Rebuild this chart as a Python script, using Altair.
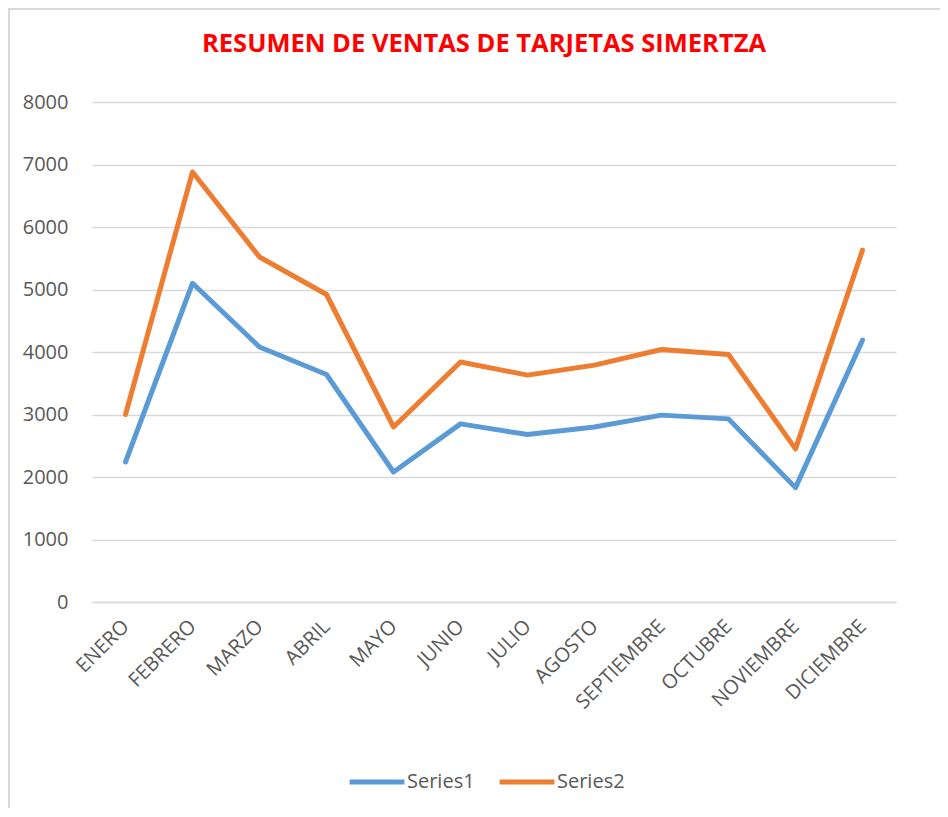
import altair as alt
import pandas as pd

months = ["ENERO", "FEBRERO", "MARZO", "ABRIL", "MAYO", "JUNIO", "JULIO",
          "AGOSTO", "SEPTIEMBRE", "OCTUBRE", "NOVIEMBRE", "DICIEMBRE"]
series1 = [2240, 5100, 4080, 3640, 2080, 2850, 2680, 2800, 2990, 2930, 1830, 4190]
series2 = [3000, 6880, 5520, 4920, 2800, 3840, 3630, 3790, 4040, 3960, 2450, 5630]

rows = []
for m, a, b in zip(months, series1, series2):
    rows.append({"mes": m, "serie": "Series1", "valor": a})
    rows.append({"mes": m, "serie": "Series2", "valor": b})
df = pd.DataFrame(rows)

FONT = "Open Sans"
GRAY = "#595959"

lines = alt.Chart(df).mark_line(strokeWidth=5, strokeCap="round", strokeJoin="round").encode(
    x=alt.X("mes:N", sort=months, scale=alt.Scale(type="point", padding=0.5),
            axis=alt.Axis(title=None, labelAngle=-45, labelFontSize=20, labelColor=GRAY,
                          labelFont=FONT, ticks=False, domain=True, domainColor="#D9D9D9",
                          domainWidth=1.3, labelPadding=21, labelBaseline="middle",
                          grid=False)),
    y=alt.Y("valor:Q", scale=alt.Scale(domain=[0, 8000], nice=False),
            axis=alt.Axis(title=None, values=list(range(0, 8001, 1000)), format="d",
                          labelFontSize=20, labelColor=GRAY, labelFont=FONT, ticks=False,
                          domain=False, gridColor="#D9D9D9", gridWidth=1.3, labelPadding=24)),
    color=alt.Color("serie:N",
                    scale=alt.Scale(domain=["Series1", "Series2"], range=["#5B9BD5", "#ED7D31"]),
                    legend=alt.Legend(title=None, orient="none", direction="horizontal",
                                      legendX=255, legendY=650, symbolType="stroke",
                                      symbolSize=3000, symbolStrokeWidth=5,
                                      labelFontSize=20, labelColor=GRAY, labelFont=FONT,
                                      columnPadding=14, labelOffset=0)),
)

border = alt.Chart(pd.DataFrame({"k": [0]})).mark_rect(
    fillOpacity=0, stroke="#D9D9D9", strokeWidth=2).encode(
    x=alt.value(-83), x2=alt.value(880), y=alt.value(-93), y2=alt.value(740))

chart = alt.layer(border, lines).properties(
    width=804, height=500,
    autosize=alt.AutoSizeParams(type="none"),
    padding={"left": 84, "top": 94, "right": 44, "bottom": 206},
    title=alt.TitleParams("RESUMEN DE VENTAS DE TARJETAS SIMERTZA", color="#FF0000",
                          font=FONT, fontSize=25.5, fontWeight="bold", anchor="middle",
                          offset=-49, dx=-10),
).configure_view(stroke=None)

chart.save("out.html", embed_options={"renderer": "svg", "actions": False})
